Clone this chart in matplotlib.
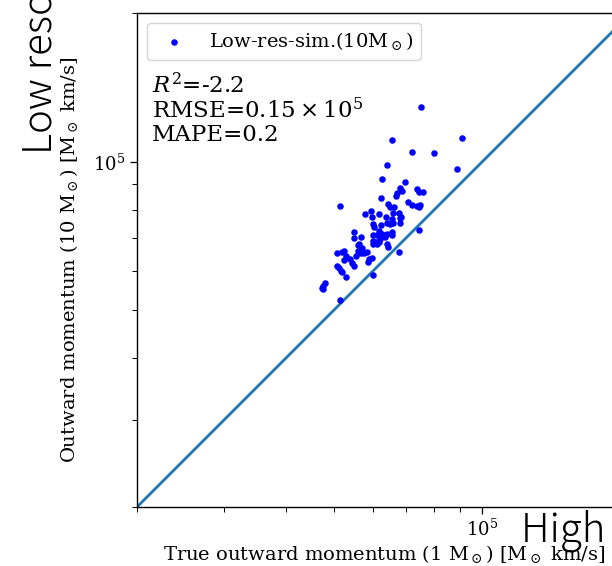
import numpy as np
import matplotlib
matplotlib.use("Agg")
import matplotlib.pyplot as plt

plt.rcParams['font.family'] = 'serif'
plt.rcParams['font.serif'] = ['DejaVu Serif']
plt.rcParams['mathtext.fontset'] = 'dejavuserif'

# ---- data (momentum in units of 1e5 Msun km/s) ----
true_mom = np.array([
    0.753, 0.658, 0.911, 0.722, 0.800, 0.640, 0.890, 0.628, 0.696, 0.680,
    0.689, 0.673, 0.736, 0.743, 0.757, 0.670, 0.625, 0.514, 0.706, 0.722,
    0.643, 0.649, 0.736, 0.746, 0.749, 0.664, 0.578, 0.594, 0.597, 0.619,
    0.637, 0.661, 0.677, 0.686, 0.655, 0.661, 0.680, 0.683, 0.640, 0.649,
    0.600, 0.605, 0.625, 0.619, 0.628, 0.611, 0.549, 0.551, 0.567, 0.600,
    0.602, 0.608, 0.640, 0.634, 0.658, 0.655, 0.743, 0.622, 0.619, 0.640,
    0.643, 0.611, 0.600, 0.564, 0.572, 0.567, 0.559, 0.583, 0.575, 0.559,
    0.554, 0.567, 0.677, 0.526, 0.507, 0.519, 0.531, 0.539, 0.526, 0.546,
    0.551, 0.591, 0.586, 0.597, 0.507, 0.512, 0.517, 0.519, 0.531, 0.600,
    0.480, 0.475, 0.473, 0.477, 0.514]) * 1e5
lowres_mom = np.array([
    1.292, 1.108, 1.118, 1.048, 1.043, 0.986, 0.968, 0.924, 0.911, 0.886,
    0.874, 0.866, 0.882, 0.870, 0.870, 0.854, 0.846, 0.815, 0.830, 0.819,
    0.823, 0.808, 0.815, 0.808, 0.819, 0.808, 0.785, 0.793, 0.774, 0.785,
    0.774, 0.789, 0.789, 0.774, 0.767, 0.753, 0.771, 0.753, 0.753, 0.749,
    0.749, 0.736, 0.743, 0.725, 0.715, 0.709, 0.719, 0.702, 0.705, 0.712,
    0.692, 0.689, 0.715, 0.705, 0.719, 0.712, 0.729, 0.699, 0.689, 0.683,
    0.673, 0.683, 0.683, 0.683, 0.670, 0.667, 0.677, 0.658, 0.652, 0.661,
    0.643, 0.652, 0.655, 0.661, 0.652, 0.655, 0.643, 0.634, 0.631, 0.625,
    0.614, 0.634, 0.628, 0.637, 0.614, 0.608, 0.602, 0.597, 0.583, 0.589,
    0.567, 0.559, 0.554, 0.552, 0.526]) * 1e5
axis_limits = [2e4, 2e5]
legend_label = r"Low-res-sim.(10M$_\odot$)"
stats_text = "$R^2$=-2.2\nRMSE=$0.15 \\times 10^5$\nMAPE=0.2"
xlabel = r"True outward momentum (1 M$_\odot$) [M$_\odot$ km/s]"
ylabel = r"Outward momentum (10 M$_\odot$) [M$_\odot$ km/s]"

W, H = 612, 566
fig = plt.figure(figsize=(W / 100, H / 100), dpi=100)
ax = fig.add_axes([137 / W, 59 / H, 494 / W, 494 / H])

ax.scatter(true_mom, lowres_mom, s=22, c='blue', marker='o', linewidths=0,
           label=legend_label, zorder=3)
ax.plot(axis_limits, axis_limits, color='#1f77b4', lw=2.0, zorder=2)

ax.set_xscale('log')
ax.set_yscale('log')
ax.set_xlim(axis_limits)
ax.set_ylim(axis_limits)

ax.tick_params(which='major', length=5, width=0.9, labelsize=13)
ax.tick_params(which='minor', length=3.3, width=0.7)
for s in ax.spines.values():
    s.set_linewidth(1.0)

ax.set_xlabel(xlabel, fontsize=14, labelpad=2)
ax.set_ylabel(ylabel, fontsize=14)
ax.yaxis.set_label_coords(-0.115, 0.5)

ax.legend(loc='upper left', fontsize=14)
ax.text(0.03, 0.878, stats_text, transform=ax.transAxes, fontsize=16.5,
        va='top', ha='left', linespacing=1.0)

# cropped super-labels of the enclosing figure
big_font = ['Noto Sans CJK JP', 'DejaVu Sans']
fig.text(521 / W, (H - 541) / H, "High resolution", fontsize=29,
         family=big_font, fontweight='light', ha='left', va='baseline')
fig.text(52 / W, (H - 154) / H, "Low resolution", fontsize=29, rotation=90,
         rotation_mode='anchor', family=big_font, fontweight='light',
         ha='left', va='baseline')

fig.savefig('out.png', dpi=100)
